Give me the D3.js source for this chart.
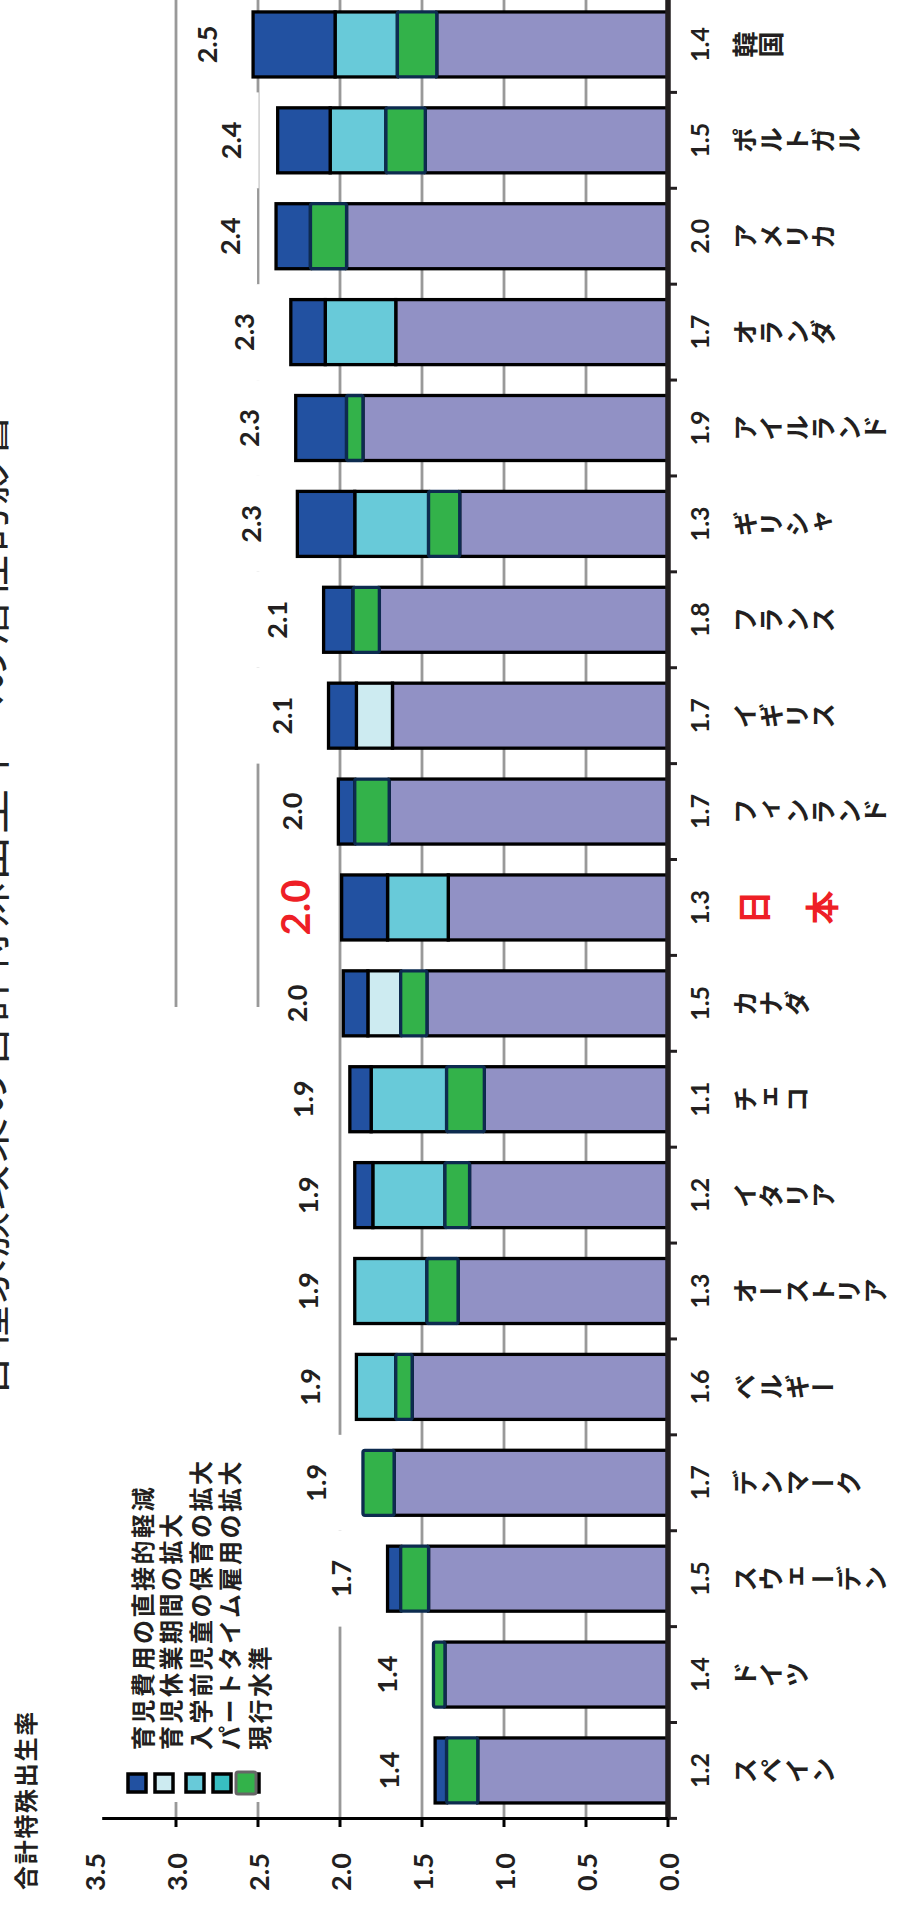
<!DOCTYPE html>
<html>
<head>
<meta charset="utf-8">
<script src="https://cdn.jsdelivr.net/npm/d3@7"></script>
<style>
  html, body { margin: 0; padding: 0; background: #fff; }
  svg { display: block; }
  .jp { font-family: "Noto Sans CJK JP", "Noto Sans", sans-serif; }
  .num { font-family: Lato, "Noto Sans", sans-serif; font-weight: 700; }
</style>
</head>
<body>
<svg id="chart" width="900" height="1906"></svg>
<script>
// Countries, left to right in the column chart (drawn rotated on the page)
const countries = ["スペイン","ドイツ","スウェーデン","デンマーク","ベルギー","オーストリア","イタリア","チェコ","カナダ","日　本","フィンランド","イギリス","フランス","ギリシャ","アイルランド","オランダ","アメリカ","ポルトガル","韓国"];

// Current total fertility rate (現行水準)
const currentLevel  = [1.16,1.36,1.46,1.67,1.56,1.28,1.21,1.12,1.47,1.34,1.70,1.68,1.76,1.27,1.86,1.66,1.96,1.48,1.41];
// Effect of each policy
const partTime      = [0.19,0.07,0.17,0.19,0.10,0.19,0.15,0.23,0.16,0.00,0.21,0.00,0.16,0.19,0.10,0.00,0.22,0.24,0.24];
const preschool     = [0.00,0.00,0.00,0.00,0.24,0.44,0.44,0.46,0.00,0.37,0.00,0.00,0.00,0.45,0.00,0.43,0.00,0.34,0.38];
const parentalLeave = [0.00,0.00,0.00,0.00,0.00,0.00,0.00,0.00,0.20,0.00,0.00,0.22,0.00,0.00,0.00,0.00,0.00,0.00,0.00];
const directCost    = [0.07,0.00,0.08,0.00,0.00,0.00,0.11,0.13,0.15,0.28,0.10,0.17,0.18,0.35,0.31,0.21,0.21,0.32,0.50];

const valueTicks = [0, 0.5, 1.0, 1.5, 2.0, 2.5, 3.0, 3.5];
const gridValues = [0.5, 1.0, 1.5, 2.0, 2.5, 3.0];

const legendLabels = ["育児費用の直接的軽減","育児休業期間の拡大","入学前児童の保育の拡大","パートタイム雇用の拡大","現行水準"];
const legendColors = ["#2251a1","#cdebf1","#68cad9","#38bec1","#33b24a"];

const axisTitle = "合計特殊出生率";
const chartTitle = "各種家族政策の合計特殊出生率への潜在的影響";

const highlight = "日　本";

// ---- build table ----
const rows = countries.map((c, i) => ({
  country: c,
  current: currentLevel[i],
  partTime: partTime[i],
  preschool: preschool[i],
  leave: parentalLeave[i],
  cost: directCost[i]
}));
rows.forEach(r => { r.total = r.current + r.partTime + r.preschool + r.leave + r.cost; });

const keys = ["current","partTime","preschool","leave","cost"];
const fills = { current: "#9191c5", partTime: "#33b24a", preschool: "#68cad9", leave: "#cdebf1", cost: "#2251a1" };

const W = 1906;
const svg = d3.select("#chart");
// The column chart is laid out upright and turned a quarter turn counter-clockwise.
const g = svg.append("g").attr("transform", `translate(0,${W}) rotate(-90)`);

const x = d3.scaleBand().domain(countries).range([87.6, 1909.5]).paddingInner(0.322).paddingOuter(0.161);
const y = d3.scaleLinear().domain([0, 3.5]).range([668, 94]);
const fmt = d3.format(".1f");
const labelGap = 47;   // distance from bar end to the centre of its total label

// gridlines
g.append("g").selectAll("line").data(gridValues).join("line")
  .attr("x1", 87.6).attr("x2", 1912)
  .attr("y1", d => y(d)).attr("y2", d => y(d))
  .attr("stroke", "#999").attr("stroke-width", 2.8);

// white backing boxes of the total labels and of the legend
const backG = g.append("g");
rows.forEach(r => {
  const cy = y(r.total) - labelGap;
  backG.append("rect")
    .attr("x", x(r.country) - x.step() * x.paddingInner() / 2)
    .attr("width", x.step())
    .attr("y", cy - 28).attr("height", 56)
    .attr("fill", "#fff");
});
backG.append("rect").attr("x", 104).attr("y", 95).attr("width", 795).attr("height", 173).attr("fill", "#fff");

// stacked bars
const series = d3.stack().keys(keys)(rows);
const barG = g.append("g");
series.forEach(s => {
  if (s.key === "partTime") return;
  barG.append("g").selectAll("rect").data(s.filter(d => d[1] - d[0] > 0)).join("rect")
    .attr("x", d => x(d.data.country))
    .attr("width", x.bandwidth())
    .attr("y", d => y(d[1]))
    .attr("height", d => y(d[0]) - y(d[1]))
    .attr("fill", fills[s.key])
    .attr("stroke", "#000").attr("stroke-width", 3.3);
});
// part-time employment segments, boxed on top
const pt = series.find(s => s.key === "partTime");
barG.append("g").selectAll("rect").data(pt.filter(d => d[1] - d[0] > 0)).join("rect")
  .attr("x", d => x(d.data.country))
  .attr("width", x.bandwidth())
  .attr("y", d => y(d[1]))
  .attr("height", d => y(d[0]) - y(d[1]))
  .attr("rx", 2)
  .attr("fill", fills.partTime)
  .attr("stroke", "#0d2b4f").attr("stroke-width", 3.3);

// total labels
const totG = g.append("g");
rows.forEach(r => {
  const isHi = r.country === highlight;
  const cx = x(r.country) + x.bandwidth() / 2;
  const cy = y(r.total) - labelGap;
  totG.append("text")
    .attr("class", "num")
    .attr("x", cx).attr("y", cy)
    .attr("text-anchor", "middle").attr("dominant-baseline", "central")
    .attr("font-size", isHi ? 40 : 27)
    .attr("fill", isHi ? "#ee1f26" : "#231f20")
    .text(fmt(r.total));
});

// category axis (baseline)
const xAxis = g.append("g");
xAxis.append("line").attr("x1", 87.6).attr("x2", 1912).attr("y1", y(0)).attr("y2", y(0))
  .attr("stroke", "#231f20").attr("stroke-width", 5.5);
const bounds = d3.range(countries.length + 1).map(i => 87.6 + i * x.step());
xAxis.selectAll(".tk").data(bounds).join("line")
  .attr("x1", d => d).attr("x2", d => d)
  .attr("y1", y(0)).attr("y2", y(0) + 9)
  .attr("stroke", "#231f20").attr("stroke-width", 3);

// current-level numbers and country names under the baseline
rows.forEach(r => {
  const isHi = r.country === highlight;
  const cx = x(r.country) + x.bandwidth() / 2;
  xAxis.append("text").attr("class", "num")
    .attr("x", cx).attr("y", 699)
    .attr("text-anchor", "middle").attr("dominant-baseline", "central")
    .attr("font-size", 25).attr("fill", "#231f20")
    .text(fmt(r.current));
  xAxis.append("text").attr("class", "jp")
    .attr("x", cx).attr("y", isHi ? 737 : 732)
    .style("writing-mode", "vertical-rl")
    .style("text-orientation", "upright")
    .attr("font-weight", 700)
    .attr("font-size", isHi ? 34 : 26)
    .attr("fill", isHi ? "#ee1f26" : "#231f20")
    .text(r.country);
});

// value axis
const yAxis = g.append("g");
yAxis.append("line").attr("x1", 87.6).attr("x2", 87.6).attr("y1", y(0)).attr("y2", y(3.45))
  .attr("stroke", "#000").attr("stroke-width", 3);
yAxis.selectAll(".vt").data(valueTicks.filter(v => v < 3.5)).join("line")
  .attr("x1", 87.6).attr("x2", 79).attr("y1", d => y(d)).attr("y2", d => y(d))
  .attr("stroke", "#000").attr("stroke-width", 3);
yAxis.selectAll("text").data(valueTicks).join("text")
  .attr("class", "num")
  .attr("x", 34).attr("y", d => y(d))
  .attr("text-anchor", "middle").attr("dominant-baseline", "central")
  .attr("font-size", 27).attr("fill", "#231f20")
  .text(d => fmt(d));

// axis title
g.append("text").attr("class", "jp")
  .attr("x", 16).attr("y", 24)
  .attr("dominant-baseline", "central")
  .attr("font-size", 24).attr("font-weight", 700).attr("letter-spacing", 1.7)
  .attr("fill", "#231f20")
  .text(axisTitle);

// legend
const lg = g.append("g");
const boxY = [128, 155, 186, 213, 241];
const textY = [141, 169, 199, 228, 258];
legendLabels.forEach((lab, i) => {
  if (i < 4) {
    lg.append("rect").attr("x", 114).attr("y", boxY[i]).attr("width", 18).attr("height", 18)
      .attr("fill", legendColors[i]).attr("stroke", "#000").attr("stroke-width", 3.5);
  } else {
    lg.append("rect").attr("x", 114).attr("y", boxY[i]).attr("width", 18).attr("height", 18)
      .attr("fill", "#000").attr("stroke", "#000").attr("stroke-width", 3.5);
    lg.append("rect").attr("x", 112).attr("y", 236).attr("width", 22).attr("height", 20).attr("rx", 2)
      .attr("fill", legendColors[i]).attr("stroke", "#666").attr("stroke-width", 3);
  }
  lg.append("text").attr("class", "jp")
    .attr("x", 156).attr("y", textY[i])
    .attr("dominant-baseline", "central")
    .attr("font-size", 24).attr("font-weight", 700).attr("letter-spacing", 2.5)
    .attr("fill", "#231f20")
    .text(lab);
});

// title (runs off the page edge)
g.append("text").attr("class", "jp")
  .attr("x", 508).attr("y", 5)
  .attr("font-size", 45).attr("fill", "#222")
  .attr("textLength", 985).attr("lengthAdjust", "spacing")
  .text(chartTitle);
</script>
</body>
</html>
